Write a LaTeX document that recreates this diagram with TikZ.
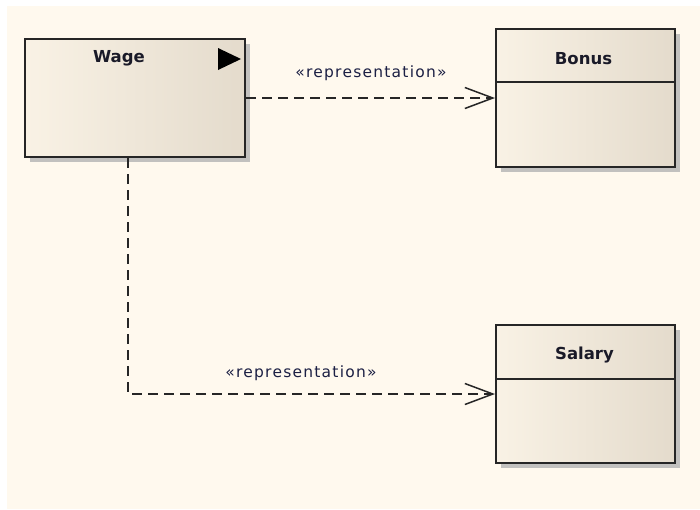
\documentclass[tikz,border=0pt]{standalone}
\usepackage{fontspec}
\setmainfont{DejaVu Sans}
\newfontfamily\stereofont[LetterSpace=8]{DejaVu Sans}
\usetikzlibrary{arrows.meta,shadows,calc}
\definecolor{bgcream}{HTML}{FFF9EE}
\definecolor{boxleft}{HTML}{F9F2E5}
\definecolor{boxright}{HTML}{E4DBCC}
\definecolor{shadowgray}{HTML}{C2C1BF}
\definecolor{edgecol}{HTML}{262626}
\definecolor{stereocol}{HTML}{1C2044}
\definecolor{namecol}{HTML}{1A1A28}
\tikzset{
  umlbox/.style={rectangle, draw=edgecol, line width=2pt, left color=boxleft, right color=boxright,
    drop shadow={shadow xshift=5pt, shadow yshift=-5pt, fill=shadowgray, opacity=1},
    inner sep=0pt},
  nametext/.style={font=\fontsize{16.5}{18}\selectfont\bfseries, text=namecol, inner sep=0pt},
  stereo/.style={font=\fontsize{15.5}{17}\selectfont\stereofont, text=stereocol, inner sep=0pt},
  dep/.style={draw=black!85, line width=1.5pt, dash pattern=on 10pt off 6pt,
    -{Straight Barb[length=28pt,width=21pt,line width=1.5pt]}},
}
\begin{document}
\begin{tikzpicture}[x=1pt,y=-1pt]
\useasboundingbox (0,0) rectangle (700,509);
\fill[white] (0,0) rectangle (700,509);
\fill[bgcream] (7,6) rectangle (700,509);

\node[umlbox, minimum width=220pt, minimum height=118pt] (wage) at (135,98) {};
\node[umlbox, minimum width=179pt, minimum height=138pt] (bonus) at (585.5,98) {};
\node[umlbox, minimum width=179pt, minimum height=138pt] (salary) at (585.5,394) {};

\node[nametext] (wagename) at ($(wage.north)+(-16,20)$) {Wage};
\fill[black] ($(wage.north east)+(-28,10)$) coordinate (tri1) -- ($(wage.north east)+(-5,21)$) coordinate (tri2) -- ($(wage.north east)+(-28,32)$) coordinate (tri3) -- cycle;

\node[nametext] (bonusname) at ($(bonus.north)+(-2,31)$) {Bonus};
\draw[edgecol, line width=1.8pt] ($(bonus.north west)+(0,54)$) coordinate (bdl) -- ($(bonus.north east)+(0,54)$) coordinate (bdr);

\node[nametext] (salaryname) at ($(salary.north)+(-1,31)$) {Salary};
\draw[edgecol, line width=1.8pt] ($(salary.north west)+(0,55)$) coordinate (sdl) -- ($(salary.north east)+(0,55)$) coordinate (sdr);

\draw[dep] (wage.east) -- (bonus.west);
\node[stereo] (lab1) at (371,73) {«representation»};

\draw[dep] ([xshift=-7pt]wage.south) |- (salary.west);
\node[stereo] (lab2) at (301,373) {«representation»};
\end{tikzpicture}
\end{document}
